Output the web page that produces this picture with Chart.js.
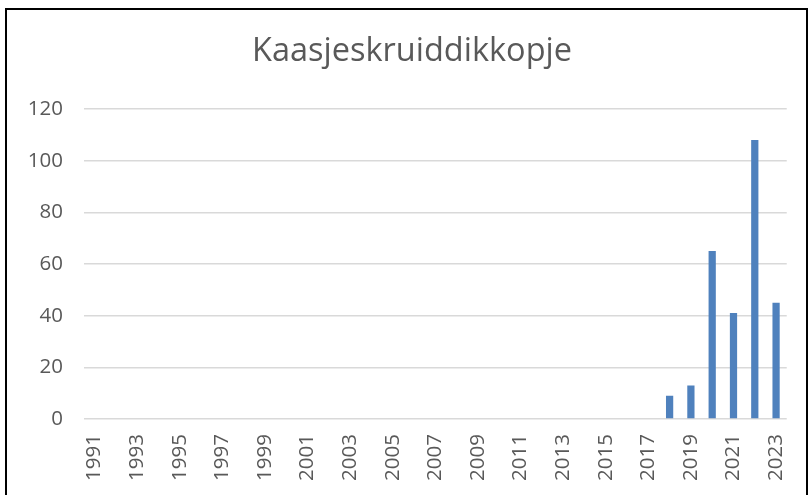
<!DOCTYPE html>
<html>
<head>
<meta charset="utf-8">
<script src="https://cdn.jsdelivr.net/npm/chart.js@4/dist/chart.umd.min.js"></script>
<style>
html,body{margin:0;padding:0;overflow:hidden;background:#fff;width:808px;height:495px;}
#wrap{position:absolute;left:0;top:0;width:808px;height:495px;}
#frame{position:absolute;left:5px;top:8px;width:799px;height:520px;border:2px solid #000;pointer-events:none;}
</style>
</head>
<body>
<div id="wrap"><canvas id="c" width="808" height="495"></canvas></div>
<div id="frame"></div>
<script>
const years = [];
for (let y = 1991; y <= 2023; y++) years.push(String(y));
const counts = [0,0,0,0,0,0,0,0,0,0,0,0,0,0,0,0,0,0,0,0,0,0,0,0,0,0,0,9,13,65,41,108,45];
const yTicks = [0,20,40,60,80,100,120];
const title = 'Kaasjeskruiddikkopje';

new Chart(document.getElementById('c'), {
  type: 'bar',
  data: {
    labels: years,
    datasets: [{
      data: counts,
      backgroundColor: '#4F81BD',
      borderWidth: 0,
      categoryPercentage: 1,
      barPercentage: 0.34
    }]
  },
  options: {
    responsive: false,
    animation: false,
    layout: { padding: { left: 16, right: 0, top: 0, bottom: 0 } },
    plugins: {
      legend: { display: false },
      tooltip: { enabled: false },
      title: {
        display: true,
        text: title,
        color: '#595959',
        font: { family: 'Open Sans', size: 32.5, weight: 'normal' },
        padding: { top: 32, bottom: 38 }
      }
    },
    scales: {
      x: {
        grid: { display: false },
        border: { display: false },
        ticks: {
          autoSkip: false,
          maxRotation: 90,
          minRotation: 90,
          padding: 7,
          color: '#595959',
          font: { family: 'Open Sans', size: 20.5 },
          callback: function(v, i) { return i % 2 === 0 ? years[i] : ''; }
        },
        afterFit: function(s) { s.height = 76; }
      },
      y: {
        min: 0,
        max: 120,
        afterBuildTicks: function(s) { s.ticks = yTicks.map(v => ({ value: v })); },
        grid: { color: '#D9D9D9', lineWidth: 1.5, drawTicks: false },
        border: { display: false },
        ticks: {
          padding: 21,
          color: '#595959',
          font: { family: 'Open Sans', size: 20.5 }
        },
        afterFit: function(s) { s.width = 68; }
      },
      y2: {
        position: 'right',
        display: true,
        grid: { display: false, drawTicks: false },
        border: { display: false },
        ticks: { display: false },
        afterFit: function(s) { s.width = 21; }
      }
    }
  }
});
</script>
</body>
</html>
